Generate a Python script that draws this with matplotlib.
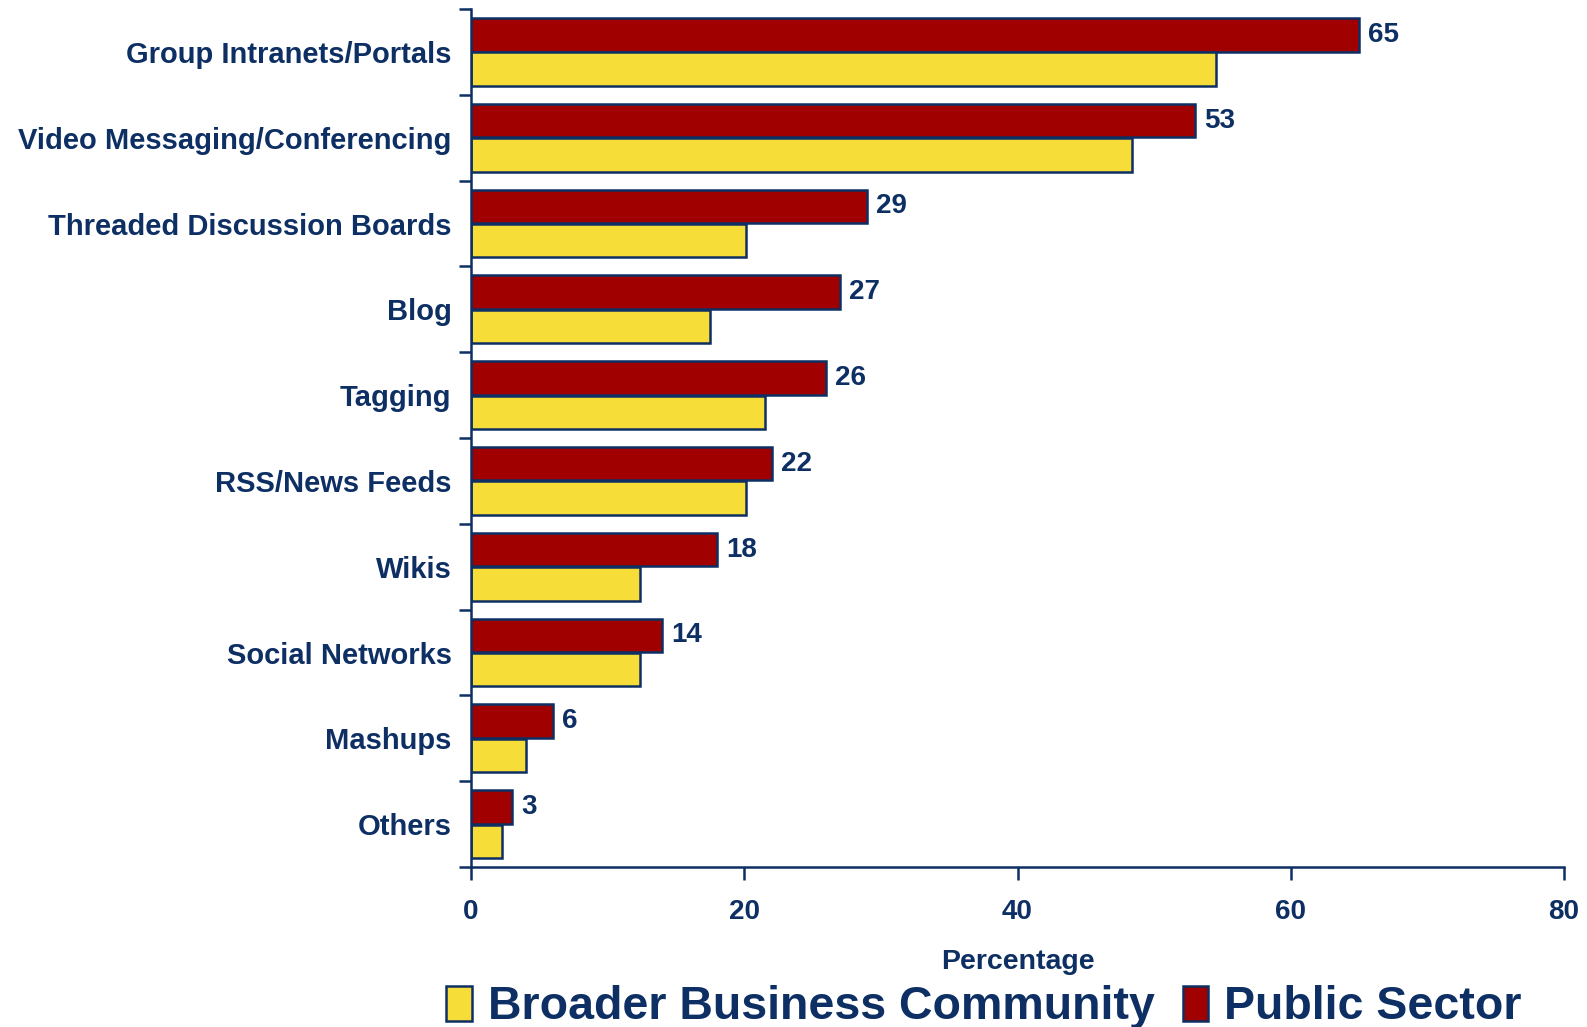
import matplotlib.pyplot as plt
from matplotlib.patches import Patch

# dati: percentuali per strumento
categorie = ['Group Intranets/Portals', 'Video Messaging/Conferencing',
             'Threaded Discussion Boards', 'Blog', 'Tagging', 'RSS/News Feeds',
             'Wikis', 'Social Networks', 'Mashups', 'Others']
settore_pubblico = [65, 53, 29, 27, 26, 22, 18, 14, 6, 3]
comunita_business = [54.5, 48.4, 20.1, 17.5, 21.5, 20.1, 12.4, 12.4, 4.0, 2.3]
tick_x = [0, 20, 40, 60, 80]

blu = '#0D2F63'
rosso = '#A00000'
giallo = '#F7DD38'

plt.rcParams['font.family'] = 'Liberation Sans'
plt.rcParams['font.weight'] = 'bold'

fig = plt.figure(figsize=(15.87, 10.27), dpi=100)
ax = fig.add_axes([0.2968, 0.1558, 0.6887, 0.8354])

pos = list(range(len(categorie)))
pos_rosso = [p + 0.3 for p in pos]
pos_giallo = [p + 0.7 for p in pos]

ax.barh(pos_rosso, settore_pubblico, height=0.39, color=rosso, edgecolor=blu, linewidth=1.8)
ax.barh(pos_giallo, comunita_business, height=0.39, color=giallo, edgecolor=blu, linewidth=1.8)

# etichette con i valori del settore pubblico
for y, v in zip(pos_rosso, settore_pubblico):
    ax.annotate(str(v), (v, y), xytext=(9, 0), textcoords='offset pixels',
                va='center', ha='left', fontsize=20, color=blu, fontweight='bold')

ax.set_xlim(0, 80)
ax.set_ylim(len(categorie), 0)
ax.set_xticks(tick_x)
ax.set_yticks(range(len(categorie) + 1))
ax.set_yticklabels([])
ax.set_yticks([p + 0.5 for p in pos], minor=True)
ax.set_yticklabels(categorie, minor=True)
ax.tick_params(axis='y', which='major', length=9, width=1.8, color=blu)
ax.tick_params(axis='y', which='minor', length=0, pad=14, labelsize=21, labelcolor=blu)
ax.tick_params(axis='x', length=9, width=1.8, color=blu, pad=14, labelsize=20, labelcolor=blu)

for s in ['top', 'right']:
    ax.spines[s].set_visible(False)
for s in ['left', 'bottom']:
    ax.spines[s].set_color(blu)
    ax.spines[s].set_linewidth(1.8)

ax.set_xlabel('Percentage', fontsize=20.5, color=blu, fontweight='bold', labelpad=17)

# legenda in basso
maniglie = [Patch(facecolor=giallo, edgecolor=blu, linewidth=1.8, label='Broader Business Community'),
            Patch(facecolor=rosso, edgecolor=blu, linewidth=1.8, label='Public Sector')]
fig.legend(handles=maniglie, loc='center', bbox_to_anchor=(0.62, 0.019), ncol=2, frameon=False,
           prop={'size': 33.5, 'weight': 'bold'}, labelcolor=blu, handlelength=0.55, handleheight=0.8,
           handletextpad=0.35, columnspacing=0.6, borderpad=0)

fig.savefig('out.png', dpi=100)
